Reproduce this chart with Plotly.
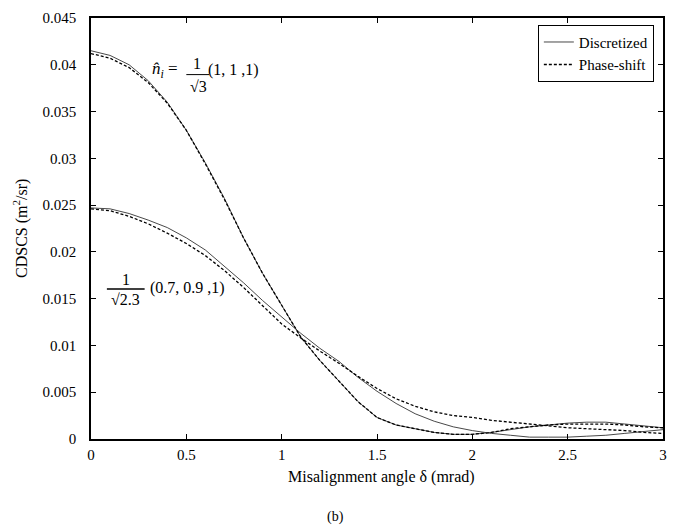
import plotly.graph_objects as go

# Misalignment angle (mrad)
delta = [0.0, 0.1, 0.2, 0.3, 0.4, 0.5, 0.6, 0.7, 0.8, 0.9, 1.0,
         1.1, 1.2, 1.3, 1.4, 1.5, 1.6, 1.7, 1.8, 1.9, 2.0,
         2.1, 2.2, 2.3, 2.4, 2.5, 2.6, 2.7, 2.8, 2.9, 3.0]

# n = (1,1,1)/sqrt(3)
a_disc = [0.0415, 0.0410, 0.0400, 0.0383, 0.0360, 0.0330, 0.0295, 0.0257, 0.0215, 0.0177, 0.0143,
          0.0109, 0.0084, 0.0062, 0.0040, 0.0023, 0.0015, 0.0011, 0.0007, 0.0005, 0.0005,
          0.0007, 0.0010, 0.0013, 0.0015, 0.0017, 0.0018, 0.0018, 0.0016, 0.0014, 0.0012]
a_phase = [0.0412, 0.0407, 0.0397, 0.0381, 0.0359, 0.0330, 0.0294, 0.0256, 0.0215, 0.0177, 0.0143,
           0.0109, 0.0084, 0.0062, 0.0040, 0.0023, 0.0015, 0.0011, 0.0007, 0.0005, 0.0005,
           0.0007, 0.0011, 0.0013, 0.0015, 0.0016, 0.0016, 0.0016, 0.0015, 0.0013, 0.0012]

# n = (0.7,0.9,1)/sqrt(2.3)
b_disc = [0.0247, 0.0246, 0.0241, 0.0234, 0.0226, 0.0215, 0.0202, 0.0185, 0.0167, 0.0148, 0.0130,
          0.0113, 0.0097, 0.0083, 0.0066, 0.0051, 0.0038, 0.0027, 0.0019, 0.0013, 0.0009,
          0.0006, 0.0004, 0.0002, 0.0002, 0.0002, 0.0003, 0.0004, 0.0006, 0.0008, 0.0010]
b_phase = [0.0246, 0.0244, 0.0238, 0.0230, 0.0220, 0.0209, 0.0196, 0.0180, 0.0162, 0.0142, 0.0123,
           0.0108, 0.0094, 0.0081, 0.0067, 0.0054, 0.0043, 0.0035, 0.0029, 0.0025, 0.0023,
           0.0020, 0.0018, 0.0016, 0.0014, 0.0012, 0.0011, 0.0010, 0.0009, 0.0007, 0.0006]

y_ticks = [0, 0.005, 0.01, 0.015, 0.02, 0.025, 0.03, 0.035, 0.04, 0.045]
y_labels = ["0", "0.005", "0.01", "0.015", "0.02", "0.025", "0.03", "0.035", "0.04", "0.045"]
x_ticks = [0, 0.5, 1, 1.5, 2, 2.5, 3]
x_labels = ["0", "0.5", "1", "1.5", "2", "2.5", "3"]

FONT = "Liberation Serif, serif"
solid = dict(color="#333333", width=0.9)
dashed = dict(color="black", width=1.3, dash="3px,2px")

fig = go.Figure()
fig.add_trace(go.Scatter(x=delta, y=a_disc, mode="lines", line=solid, name="Discretized"))
fig.add_trace(go.Scatter(x=delta, y=a_phase, mode="lines", line=dashed, name="Phase-shift"))
fig.add_trace(go.Scatter(x=delta, y=b_disc, mode="lines", line=solid, showlegend=False))
fig.add_trace(go.Scatter(x=delta, y=b_phase, mode="lines", line=dashed, showlegend=False))

W, H = 677, 525
L, R, T, B = 91, 10, 15, 86
pw, ph = W - L - R, H - T - B

def px(xp):
    return (xp - L) / pw

def py(yp):
    return 1 - (yp - T) / ph

ann = []
def txt(x, y, s, size=15, **kw):
    ann.append(dict(x=px(x), y=py(y), xref="paper", yref="paper", text=s, showarrow=False,
                    xanchor="center", yanchor="middle",
                    font=dict(family=FONT, size=size, color="black"), **kw))

# annotation 1
txt(166, 67, "<i>n̂<sub>i</sub></i> =", size=17)
txt(198, 61, "1", size=16)
txt(199, 84, "√3", size=16)
txt(234, 67, "(1, 1 ,1)", size=16)
# annotation 2
txt(126, 278, "1", size=16)
txt(126, 299, "√2.3", size=16)
txt(188, 287, "(0.7, 0.9 ,1)", size=16)
# axis titles
txt(384, 477, "Misalignment angle δ (mrad)", size=16)
txt(337, 518, "(b)", size=14)
txt(20, 227, "CDSCS (m<sup>2</sup>/sr)", size=16, textangle=-90)

shapes = [
    dict(type="line", xref="paper", yref="paper", x0=px(187), x1=px(210), y0=py(72), y1=py(72),
         line=dict(color="black", width=1)),
    dict(type="line", xref="paper", yref="paper", x0=px(107), x1=px(145), y0=py(288), y1=py(288),
         line=dict(color="black", width=1.5)),
]

axis_common = dict(showgrid=False, zeroline=False, showline=True, linecolor="black", linewidth=1.5,
                   mirror="ticks", ticks="inside", ticklen=5, tickcolor="black", tickwidth=1,
                   tickfont=dict(family=FONT, size=15, color="black"))

fig.update_layout(
    width=W, height=H,
    margin=dict(l=L, r=R, t=T, b=B),
    paper_bgcolor="white", plot_bgcolor="white",
    xaxis=dict(range=[0, 3], tickvals=x_ticks, ticktext=x_labels, ticklabelstandoff=1, **axis_common),
    yaxis=dict(range=[0, 0.045], tickvals=y_ticks, ticktext=y_labels, ticklabelstandoff=10, **axis_common),
    legend=dict(x=0.984, y=0.984, xanchor="right", yanchor="top", bgcolor="white",
                bordercolor="black", borderwidth=1, font=dict(family=FONT, size=15, color="black"),
                tracegroupgap=0, itemwidth=30),
    annotations=ann, shapes=shapes, showlegend=True,
)

fig.write_html("out.html")
